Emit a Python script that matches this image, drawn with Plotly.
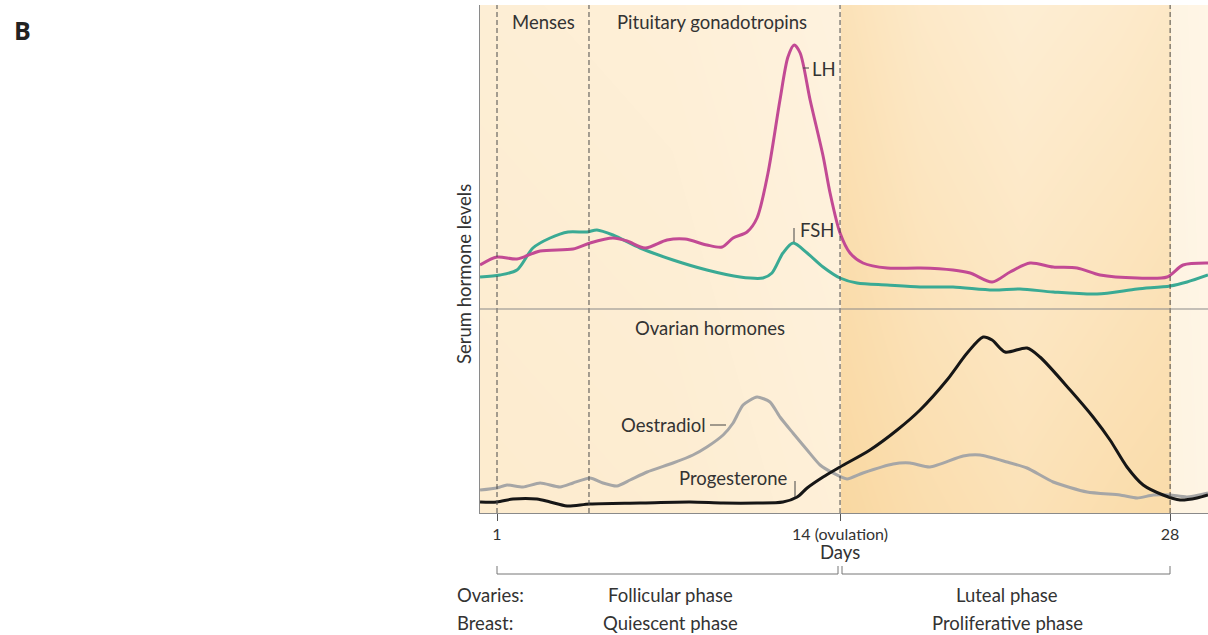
import plotly.graph_objects as go

# ---------------- data (x in cycle days, y in relative serum level) ----------------
lh_day = [0.32, 1.0, 1.80, 2.73, 4.05, 4.73, 5.65, 6.22, 6.94, 7.82, 8.54, 9.42, 10.03, 10.47,
          11.03, 11.43, 11.87, 12.35, 12.67, 12.92, 13.16, 13.56, 14.08, 14.36, 14.76, 15.16,
          15.68, 16.65, 17.97, 19.29, 19.98, 20.86, 21.58, 22.38, 23.31, 24.27, 25.19, 26.68,
          27.88, 28.52, 29.52]
lh_val = [44, 52, 50, 58, 60, 66, 71, 68, 61, 69, 70, 64, 62, 71,
          77, 91, 136, 209, 252, 264, 256, 209, 153, 116, 76, 56,
          46, 41, 41, 39, 36, 27, 37, 46, 42, 41, 34, 31,
          32, 44, 46]

fsh_day = [0.32, 1.12, 1.80, 2.44, 3.13, 3.85, 4.61, 5.01, 5.65, 6.74, 8.06, 9.42, 10.75, 11.67,
           12.03, 12.47, 12.88, 13.44, 14.08, 14.76, 15.44, 16.65, 17.97, 19.29, 20.90, 21.98,
           23.31, 25.07, 26.68, 28.00, 28.68, 29.52]
fsh_val = [32, 34, 39, 61, 71, 77, 77, 79, 74, 61, 49, 39, 32, 31,
           36, 56, 66, 56, 42, 31, 26, 24, 22, 22, 19, 20,
           17, 15, 20, 23, 27, 34]

oe_day = [0.32, 1.0, 1.40, 2.04, 2.73, 3.53, 4.05, 4.73, 5.25, 5.81, 6.34, 7.02, 8.06, 8.86,
          9.42, 10.07, 10.47, 10.87, 11.43, 11.95, 12.35, 12.87, 13.44, 13.96, 14.48, 15.04,
          15.68, 16.89, 17.57, 18.37, 19.70, 20.38, 21.46, 22.26, 23.31, 24.67, 25.99, 26.68,
          27.32, 28.00, 28.68, 29.52]
oe_val = [23, 25, 28, 26, 30, 26, 30, 35, 30, 27, 33, 41, 50, 58,
          66, 78, 90, 108, 116, 111, 96, 80, 63, 48, 40, 34,
          40, 49, 50, 46, 57, 58, 51, 45, 31, 21, 18, 15,
          18, 18, 16, 20]

pg_day = [0.32, 1.0, 1.64, 2.60, 3.13, 3.81, 4.73, 6.74, 8.74, 10.07, 11.43, 12.47, 13.04, 13.44,
          14.08, 14.76, 15.96, 17.05, 17.97, 19.05, 19.86, 20.50, 20.86, 21.38, 22.26, 22.78,
          23.99, 24.91, 25.59, 26.27, 26.92, 27.72, 28.40, 29.08, 29.52]
pg_val = [11, 11, 14, 14, 11, 7, 9, 10, 11, 10, 10, 11, 16, 25,
          36, 46, 63, 83, 103, 133, 160, 176, 173, 161, 165, 156,
          123, 96, 73, 46, 28, 18, 13, 15, 18]

tick_days = [1, 14.76, 28]
tick_text = ["1", "14 (ovulation)", "28"]
divider_days = [1, 4.69, 14.76, 28]

# background tint (0 = pale, 1 = deep apricot), sampled at bottom and top of the plot
bg_day = [0.30, 8.0, 14.74, 14.78, 18.0, 22.0, 26.0, 27.98, 28.02, 29.6]
bg_bottom = [0.33, 0.30, 0.22, 0.80, 0.68, 0.58, 0.68, 0.72, 0.12, 0.08]
bg_top = [0.26, 0.23, 0.15, 0.58, 0.40, 0.28, 0.36, 0.42, 0.10, 0.06]

# ---------------- geometry helpers ----------------
W, H = 1208, 635
L, T, B = 480, 5, 122
PW, PH = W - L, H - T - B
SPLIT = 204 / PH            # bottom panel share
X0, X1 = 0.318, 29.52


def px(x):
    return (x - L) / PW


def py(y):
    return (H - B - y) / PH


bg_scale = [[0, "#FFF8EC"], [0.5, "#FCE5BF"], [1, "#F7CF8E"]]


def bg_rows(f0, f1):
    rows = []
    for f in (f0, f1):
        rows.append([b + (t - b) * f for b, t in zip(bg_bottom, bg_top)])
    return rows


fig = go.Figure()

# background tints
fig.add_trace(go.Heatmap(x=bg_day, y=[0, 204], z=bg_rows(0, SPLIT), colorscale=bg_scale,
                         zmin=0, zmax=1, zsmooth="best", showscale=False, hoverinfo="skip",
                         xaxis="x", yaxis="y"))
fig.add_trace(go.Heatmap(x=bg_day, y=[0, 304], z=bg_rows(SPLIT, 1), colorscale=bg_scale,
                         zmin=0, zmax=1, zsmooth="best", showscale=False, hoverinfo="skip",
                         xaxis="x", yaxis="y2"))

line_kw = dict(mode="lines", line_shape="spline", hoverinfo="skip", showlegend=False)
fig.add_trace(go.Scatter(x=fsh_day, y=fsh_val, line=dict(color="#3AAA94", width=3, smoothing=0.8),
                         xaxis="x", yaxis="y2", **line_kw))
fig.add_trace(go.Scatter(x=lh_day, y=lh_val, line=dict(color="#C24A94", width=3, smoothing=0.8),
                         xaxis="x", yaxis="y2", **line_kw))
fig.add_trace(go.Scatter(x=oe_day, y=oe_val, line=dict(color="#A6A6A6", width=3, smoothing=0.6),
                         xaxis="x", yaxis="y", **line_kw))
fig.add_trace(go.Scatter(x=pg_day, y=pg_val, line=dict(color="#161616", width=3, smoothing=0.8),
                         xaxis="x", yaxis="y", **line_kw))

shapes = []
for d in divider_days:
    shapes.append(dict(type="line", xref="x", yref="paper", x0=d, x1=d, y0=0, y1=1,
                       line=dict(color="#4A4A4A", width=1, dash="5px,3px"), layer="above"))
# horizontal divider between panels
shapes.append(dict(type="line", xref="paper", yref="paper", x0=0, x1=1, y0=SPLIT, y1=SPLIT,
                   line=dict(color="#8A8A8A", width=1.2), layer="above"))
# label leader marks
grey = dict(color="#444444", width=1)
shapes += [
    dict(type="line", xref="paper", yref="paper", x0=px(803), x1=px(809), y0=py(68), y1=py(68), line=grey),
    dict(type="line", xref="paper", yref="paper", x0=px(794), x1=px(794), y0=py(228), y1=py(242), line=grey),
    dict(type="line", xref="paper", yref="paper", x0=px(710), x1=px(726), y0=py(425), y1=py(425), line=grey),
    dict(type="line", xref="paper", yref="paper", x0=px(795), x1=px(795), y0=py(481), y1=py(497), line=grey),
]
# phase brackets
bk = dict(color="#777777", width=1)
for a, b in [(497, 838), (842, 1170)]:
    shapes.append(dict(type="line", xref="paper", yref="paper", x0=px(a), x1=px(b), y0=py(574), y1=py(574), line=bk))
    for e in (a, b):
        shapes.append(dict(type="line", xref="paper", yref="paper", x0=px(e), x1=px(e), y0=py(574), y1=py(566), line=bk))

FONT = "Lato"
TXT = "#333333"
FS = 18.5


def ann(text, x, y, size=FS, xanchor="center", **kw):
    return dict(text=text, xref="paper", yref="paper", x=px(x), y=py(y), showarrow=False,
                xanchor=xanchor, yanchor="middle", font=dict(family=FONT, size=size, color=TXT), **kw)


annotations = [
    ann("Menses", 543, 22),
    ann("Pituitary gonadotropins", 712, 22),
    ann("Ovarian hormones", 710, 328),
    ann("LH", 810, 69, xanchor="left"),
    ann("FSH", 798, 230, xanchor="left"),
    ann("Oestradiol", 708, 425, xanchor="right"),
    ann("Progesterone", 790, 478, xanchor="right"),
    ann("Days", 840, 552),
    ann("Ovaries:", 455, 595, xanchor="left"),
    ann("Follicular phase", 670, 595),
    ann("Luteal phase", 1007, 595),
    ann("Breast:", 455, 623, xanchor="left"),
    ann("Quiescent phase", 670, 623),
    ann("Proliferative phase", 1007, 623),
    ann("Serum hormone levels", 464, 274, textangle=-90),
    dict(text="<b>B</b>", xref="paper", yref="paper", x=px(22), y=py(30), showarrow=False,
         xanchor="center", yanchor="middle", font=dict(family="Open Sans", size=25, color="#222222")),
]

fig.update_layout(
    width=W, height=H,
    margin=dict(l=L, r=0, t=T, b=B, pad=0),
    paper_bgcolor="white", plot_bgcolor="rgba(0,0,0,0)",
    showlegend=False,
    xaxis=dict(range=[X0, X1], anchor="y", tickvals=tick_days, ticktext=tick_text,
               ticks="outside", ticklen=7, tickcolor="#555555", tickwidth=1,
               showline=True, linecolor="#8A8A8A", linewidth=1.2, showgrid=False, zeroline=False,
               tickfont=dict(family=FONT, size=16, color=TXT)),
    yaxis=dict(domain=[0, SPLIT], range=[0, 204], showticklabels=False, showgrid=False,
               zeroline=False, showline=True, linecolor="#8A8A8A", linewidth=1.2, ticks=""),
    yaxis2=dict(domain=[SPLIT, 1], range=[0, 304], anchor="x", showticklabels=False, showgrid=False,
                zeroline=False, showline=True, linecolor="#8A8A8A", linewidth=1.2, ticks=""),
    shapes=shapes,
    annotations=annotations,
)

fig.write_html("out.html", config={"displayModeBar": False},
               post_script="document.body.style.margin='0';document.body.style.overflow='hidden';")
